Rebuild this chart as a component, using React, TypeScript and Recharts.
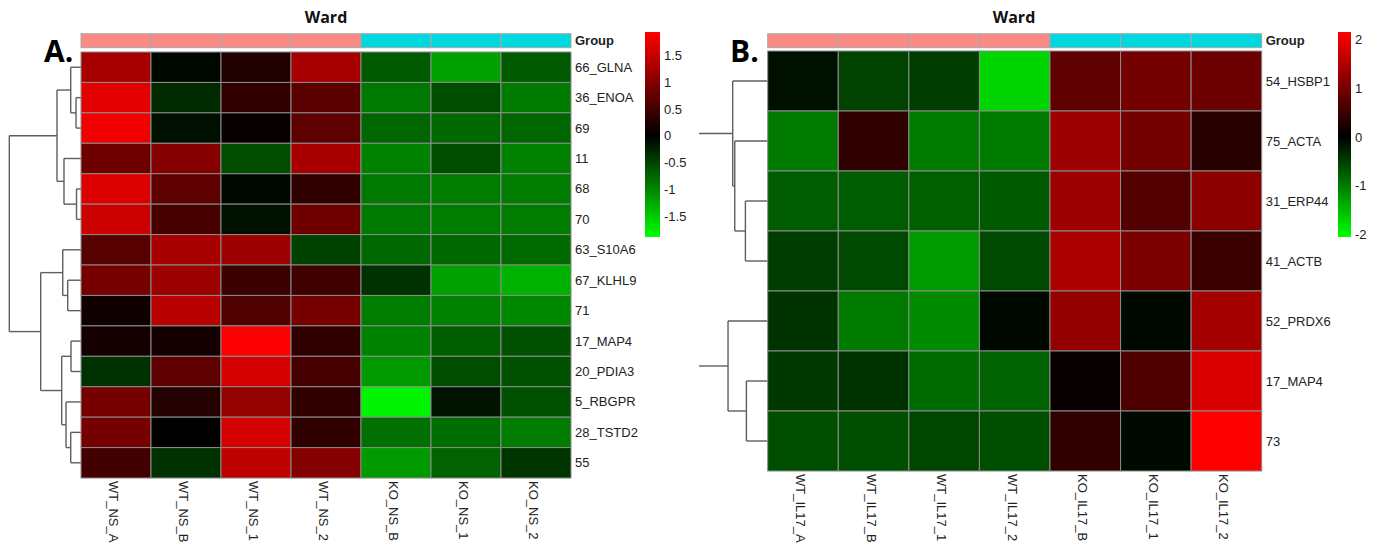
import React from "react";
import { ScatterChart, Scatter, XAxis, YAxis, ReferenceLine, ReferenceArea } from "recharts";

const FONT = "'Liberation Sans', Arial, sans-serif";
const HEAD_FONT = "'Open Sans', sans-serif";
const H = 549;

// ---- panel A ----
const samplesA = ["WT_NS_A", "WT_NS_B", "WT_NS_1", "WT_NS_2", "KO_NS_B", "KO_NS_1", "KO_NS_2"];
const groupsA = ["WT", "WT", "WT", "WT", "KO", "KO", "KO"];
const proteinsA = [
  "66_GLNA", "36_ENOA", "69", "11", "68", "70", "63_S10A6",
  "67_KLHL9", "71", "17_MAP4", "20_PDIA3", "5_RBGPR", "28_TSTD2", "55",
];
const valuesA = [
  [1.27, -0.07, 0.24, 1.27, -0.67, -1.19, -0.67],
  [1.71, -0.3, 0.36, 0.69, -0.89, -0.57, -0.91],
  [1.83, -0.12, 0.06, 0.72, -0.75, -0.77, -0.76],
  [0.83, 1.01, -0.57, 1.27, -0.95, -0.57, -0.95],
  [1.67, 0.72, -0.06, 0.36, -0.89, -0.92, -0.92],
  [1.55, 0.54, -0.12, 0.83, -0.89, -0.92, -0.92],
  [0.66, 1.27, 1.19, -0.48, -0.77, -0.77, -0.79],
  [0.89, 1.19, 0.45, 0.48, -0.36, -1.19, -1.31],
  [0.12, 1.39, 0.6, 0.89, -0.92, -0.95, -1.01],
  [0.15, 0.15, 1.9, 0.36, -0.95, -0.69, -0.6],
  [-0.36, 0.72, 1.61, 0.54, -1.13, -0.57, -0.6],
  [0.89, 0.27, 1.13, 0.36, -1.79, -0.15, -0.6],
  [0.89, 0.0, 1.61, 0.36, -0.83, -0.8, -0.92],
  [0.51, -0.36, 1.43, 1.01, -1.13, -0.72, -0.39],
];
// [child, child, height]; child < 100 = row, >= 100 = earlier merge
const mergesA = [
  [1, 2, 0.071],
  [0, 100, 0.147],
  [4, 5, 0.064],
  [3, 102, 0.243],
  [101, 103, 0.343],
  [7, 8, 0.19],
  [6, 105, 0.261],
  [9, 10, 0.143],
  [12, 13, 0.147],
  [11, 108, 0.214],
  [107, 109, 0.276],
  [106, 110, 0.576],
  [104, 111, 1.024],
];
const keyTicksA = [1.5, 1, 0.5, 0, -0.5, -1, -1.5];
const keyRangeA = [-1.88, 1.93];

// ---- panel B ----
const samplesB = ["WT_IL17_A", "WT_IL17_B", "WT_IL17_1", "WT_IL17_2", "KO_IL17_B", "KO_IL17_1", "KO_IL17_2"];
const groupsB = ["WT", "WT", "WT", "WT", "KO", "KO", "KO"];
const proteinsB = ["54_HSBP1", "75_ACTA", "31_ERP44", "41_ACTB", "52_PRDX6", "17_MAP4", "73"];
const valuesB = [
  [-0.13, -0.53, -0.49, -1.71, 0.79, 0.99, 0.92],
  [-0.99, 0.4, -0.99, -0.99, 1.32, 0.99, 0.33],
  [-0.74, -0.74, -0.76, -0.73, 1.32, 0.69, 1.19],
  [-0.49, -0.59, -1.25, -0.59, 1.45, 1.05, 0.49],
  [-0.4, -0.99, -1.12, -0.07, 1.25, -0.07, 1.38],
  [-0.46, -0.4, -0.86, -0.79, 0.07, 0.66, 1.85],
  [-0.63, -0.63, -0.56, -0.63, 0.4, -0.07, 2.15],
];
const mergesB = [
  [2, 3, 0.316],
  [1, 100, 0.467],
  [0, 101, 0.496],
  [5, 6, 0.302],
  [4, 103, 0.562],
  [102, 104, 0.99],
];
const keyTicksB = [2, 1, 0, -1, -2];
const keyRangeB = [-2.05, 2.15];

const groupColor: Record<string, string> = { WT: "#F98B84", KO: "#00D8E0" };

function heatColor(v: number, lo: number, hi: number) {
  if (v >= 0) return `rgb(${Math.round(255 * Math.min(1, v / hi))},0,0)`;
  return `rgb(0,${Math.round(255 * Math.min(1, v / lo))},0)`;
}

function dendroSegments(merges: number[][]) {
  const nodes: { y: number; h: number }[] = [];
  const get = (id: number) => (id >= 100 ? nodes[id - 100] : { y: id + 0.5, h: 0 });
  const segs: { x: number; y: number }[][] = [];
  merges.forEach(([a, b, h]) => {
    const A = get(a);
    const B = get(b);
    segs.push([{ x: -h, y: A.y }, { x: -h, y: B.y }]);
    segs.push([{ x: -h, y: A.y }, { x: -A.h, y: A.y }]);
    segs.push([{ x: -h, y: B.y }, { x: -B.h, y: B.y }]);
    nodes.push({ y: (A.y + B.y) / 2, h });
  });
  return segs;
}

function HeatPanel(props: any) {
  const { left, width, heatLeft, heatTop, colW, rowH, samples, groups, proteins, values, merges, range } = props;
  const [lo, hi] = range;
  const xMin = -heatLeft / colW;
  const yMin = -heatTop / rowH;
  const nCol = samples.length;
  const nRow = proteins.length;
  const groupY = -(heatTop - 40.7) / rowH;

  const cells = values.flatMap((row: number[], r: number) => row.map((v, c) => ({ x: c + 0.5, y: r + 0.5, v })));
  const groupCells = groups.map((g: string, c: number) => ({ x: c + 0.5, y: groupY, g }));
  const rowLabels = proteins.map((p: string, r: number) => ({ x: nCol, y: r + 0.5, name: p, bold: false }));
  rowLabels.push({ x: nCol, y: groupY, name: "Group", bold: true });
  const colLabels = samples.map((s: string, c: number) => ({ x: c + 0.5, y: nRow, name: s }));
  const segs = dendroSegments(merges);

  return (
    <div style={{ position: "absolute", left, top: 0 }}>
      <ScatterChart width={width} height={H} margin={{ top: 0, right: 0, bottom: 0, left: 0 }}>
        <XAxis type="number" dataKey="x" domain={[xMin, xMin + width / colW]} allowDataOverflow hide />
        <YAxis type="number" dataKey="y" domain={[yMin, yMin + H / rowH]} allowDataOverflow reversed hide />
        {segs.map((s, i) => (
          <ReferenceLine key={`d-${i}`} segment={s} stroke="#5e5e5e" strokeWidth={1.4} ifOverflow="hidden" />
        ))}
        <Scatter
          data={groupCells}
          isAnimationActive={false}
          shape={(p: any) => (
            <rect x={p.cx - colW / 2} y={p.cy - 7} width={colW} height={14}
              fill={groupColor[p.payload.g]} stroke="#a8a8a8" strokeWidth={1} />
          )}
        />
        <Scatter
          data={cells}
          isAnimationActive={false}
          shape={(p: any) => (
            <rect x={p.cx - colW / 2} y={p.cy - rowH / 2} width={colW} height={rowH}
              fill={heatColor(p.payload.v, lo, hi)} stroke="#8c8c8c" strokeWidth={1} />
          )}
        />
        <Scatter
          data={rowLabels}
          isAnimationActive={false}
          shape={(p: any) => (
            <text x={p.cx + 4} y={p.cy} dominantBaseline="central" fontSize={13} fontFamily={FONT}
              fontWeight={p.payload.bold ? "bold" : "normal"} fill="#222">
              {p.payload.name}
            </text>
          )}
        />
        <Scatter
          data={colLabels}
          isAnimationActive={false}
          shape={(p: any) => (
            <text x={p.cx - 2.5} y={p.cy + 3} transform={`rotate(90, ${p.cx - 2.5}, ${p.cy + 3})`}
              dominantBaseline="central" fontSize={13} fontFamily={FONT} fill="#222">
              {p.payload.name}
            </text>
          )}
        />
      </ScatterChart>
    </div>
  );
}

function ColorKey({ left, top, barW, axisW, range, ticks, id }: any) {
  const [lo, hi] = range;
  const pad = 10;
  return (
    <div style={{ position: "absolute", left, top: top - pad }}>
      <ScatterChart width={barW + axisW} height={205 + 2 * pad} margin={{ top: pad, right: 0, bottom: pad, left: 0 }}>
        <defs>
          <linearGradient id={id} x1="0" y1="0" x2="0" y2="1">
            <stop offset="0" stopColor="#ff0000" />
            <stop offset={hi / (hi - lo)} stopColor="#000000" />
            <stop offset="1" stopColor="#00ff00" />
          </linearGradient>
        </defs>
        <XAxis type="number" dataKey="x" domain={[0, 1]} allowDataOverflow hide />
        <YAxis
          type="number"
          dataKey="y"
          domain={[lo, hi]}
          allowDataOverflow
          ticks={ticks}
          interval={0}
          orientation="right"
          width={axisW}
          axisLine={false}
          tickLine={false}
          tickSize={0}
          tickMargin={4}
          tick={{ fontSize: 13, fill: "#222", fontFamily: FONT }}
        />
        <ReferenceArea x1={0} x2={1} y1={lo} y2={hi} fill={`url(#${id})`} fillOpacity={1} stroke="none" ifOverflow="visible" />
        <Scatter data={[]} isAnimationActive={false} />
      </ScatterChart>
    </div>
  );
}

export default function App() {
  return (
    <div style={{ position: "absolute", left: 0, top: 0, width: 1386, height: H, background: "#fff", overflow: "hidden" }}>
      <HeatPanel
        left={0} width={693} heatLeft={81} heatTop={52} colW={70} rowH={30.43}
        samples={samplesA} groups={groupsA} proteins={proteinsA} values={valuesA}
        merges={mergesA} range={keyRangeA}
      />
      <HeatPanel
        left={699} width={687} heatLeft={68.7} heatTop={51} colW={70.57} rowH={60}
        samples={samplesB} groups={groupsB} proteins={proteinsB} values={valuesB}
        merges={mergesB} range={keyRangeB}
      />
      <ColorKey left={645} top={32} barW={15} axisW={40} range={keyRangeA} ticks={keyTicksA} id="keyA" />
      <ColorKey left={1338} top={32} barW={13} axisW={35} range={keyRangeB} ticks={keyTicksB} id="keyB" />
      <svg width={1386} height={H} style={{ position: "absolute", left: 0, top: 0, pointerEvents: "none" }}>
        <text x={326} y={23} textAnchor="middle" fontFamily={HEAD_FONT} fontWeight="bold" fontSize={16} fill="#111">Ward</text>
        <text x={1014} y={23} textAnchor="middle" fontFamily={HEAD_FONT} fontWeight="bold" fontSize={16} fill="#111">Ward</text>
        <text x={44} y={62} fontFamily={HEAD_FONT} fontWeight="bold" fontSize={30} fill="#000">A.</text>
        <text x={730} y={62} fontFamily={HEAD_FONT} fontWeight="bold" fontSize={30} fill="#000">B.</text>
      </svg>
    </div>
  );
}
